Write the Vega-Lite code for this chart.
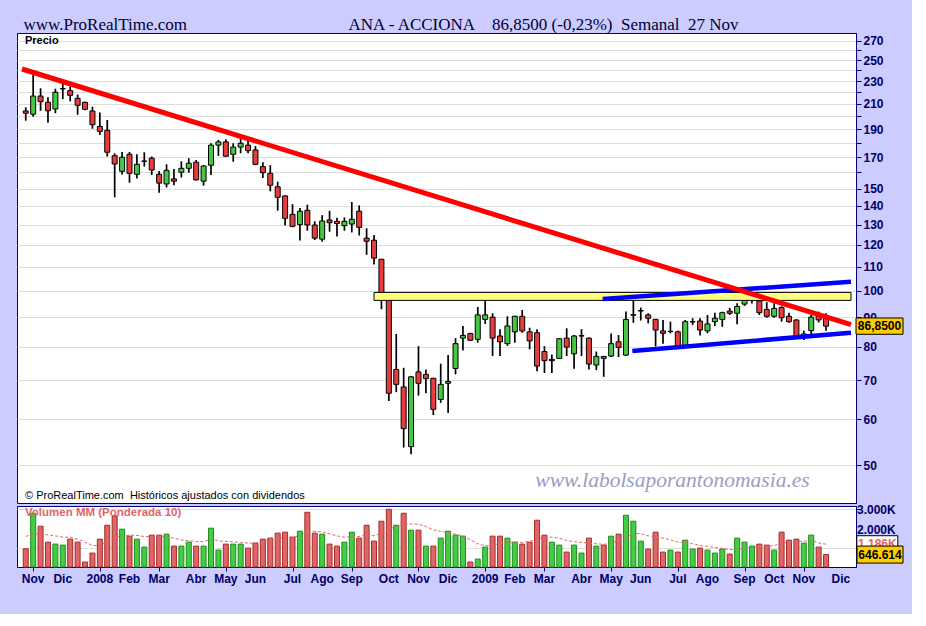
{
  "$schema": "https://vega.github.io/schema/vega-lite/v6.json",
  "background": "#CCCCFF",
  "padding": {"left": 16, "top": 15, "right": 6, "bottom": 28},
  "title": {
    "text": "www.ProRealTime.com\u00a0\u00a0\u00a0\u00a0\u00a0\u00a0\u00a0\u00a0\u00a0\u00a0\u00a0\u00a0\u00a0\u00a0\u00a0\u00a0\u00a0\u00a0\u00a0\u00a0\u00a0\u00a0\u00a0\u00a0\u00a0\u00a0\u00a0\u00a0\u00a0\u00a0\u00a0\u00a0\u00a0\u00a0\u00a0\u00a0\u00a0\u00a0ANA - ACCIONA\u00a0\u00a0\u00a0\u00a086,8500 (-0,23%)\u00a0\u00a0Semanal\u00a0\u00a027 Nov",
    "anchor": "start",
    "font": "Liberation Serif",
    "fontSize": 17,
    "fontWeight": "normal",
    "color": "#000033",
    "offset": -1,
    "dx": 7
  },
  "datasets": {
    "semanal": [
      {"d":"2007-10-29","o":204.2,"h":207.2,"l":196.5,"c":202.4,"v":950,"mm":1589,"sube":false},
      {"d":"2007-11-05","o":201.6,"h":236.5,"l":199.6,"c":216.7,"v":2798,"mm":1727,"sube":true},
      {"d":"2007-11-12","o":216.7,"h":223.5,"l":204.4,"c":211.9,"v":2124,"mm":1710,"sube":false},
      {"d":"2007-11-19","o":211.4,"h":215.6,"l":194.9,"c":204.4,"v":1295,"mm":1675,"sube":false},
      {"d":"2007-11-26","o":205.8,"h":223.1,"l":202.4,"c":220.0,"v":1192,"mm":1623,"sube":true},
      {"d":"2007-12-03","o":223.3,"h":228.0,"l":214.1,"c":222.9,"v":1140,"mm":1554,"sube":true},
      {"d":"2007-12-10","o":221.4,"h":225.0,"l":212.2,"c":217.3,"v":1451,"mm":1554,"sube":false},
      {"d":"2007-12-17","o":214.7,"h":218.0,"l":201.2,"c":208.9,"v":1295,"mm":1450,"sube":false},
      {"d":"2007-12-24","o":211.4,"h":211.9,"l":204.8,"c":205.6,"v":259,"mm":1295,"sube":false},
      {"d":"2007-12-31","o":204.2,"h":207.7,"l":190.3,"c":193.4,"v":725,"mm":1122,"sube":false},
      {"d":"2008-01-07","o":192.1,"h":203.0,"l":185.7,"c":188.3,"v":1451,"mm":1105,"sube":false},
      {"d":"2008-01-14","o":189.1,"h":197.0,"l":170.4,"c":173.3,"v":2176,"mm":1330,"sube":false},
      {"d":"2008-01-21","o":171.0,"h":172.6,"l":144.9,"c":165.4,"v":2660,"mm":1554,"sube":false},
      {"d":"2008-01-28","o":160.7,"h":173.5,"l":158.6,"c":169.9,"v":1969,"mm":1623,"sube":true},
      {"d":"2008-02-04","o":171.9,"h":173.5,"l":153.6,"c":159.4,"v":1606,"mm":1658,"sube":false},
      {"d":"2008-02-11","o":158.8,"h":171.9,"l":156.1,"c":165.2,"v":1451,"mm":1640,"sube":true},
      {"d":"2008-02-18","o":167.2,"h":173.3,"l":163.7,"c":167.4,"v":1036,"mm":1589,"sube":true},
      {"d":"2008-02-25","o":169.3,"h":170.4,"l":158.4,"c":161.5,"v":1658,"mm":1589,"sube":false},
      {"d":"2008-03-03","o":158.8,"h":160.9,"l":147.6,"c":153.3,"v":1658,"mm":1623,"sube":false},
      {"d":"2008-03-10","o":152.8,"h":165.2,"l":150.7,"c":161.3,"v":1710,"mm":1554,"sube":true},
      {"d":"2008-03-17","o":155.9,"h":162.2,"l":152.0,"c":154.5,"v":1088,"mm":1502,"sube":false},
      {"d":"2008-03-24","o":160.1,"h":167.2,"l":156.8,"c":162.6,"v":1088,"mm":1416,"sube":true},
      {"d":"2008-03-31","o":162.6,"h":169.3,"l":159.8,"c":165.9,"v":1295,"mm":1364,"sube":true},
      {"d":"2008-04-07","o":166.6,"h":168.1,"l":154.9,"c":155.3,"v":1088,"mm":1330,"sube":false},
      {"d":"2008-04-14","o":154.5,"h":164.6,"l":151.8,"c":164.1,"v":1088,"mm":1312,"sube":true},
      {"d":"2008-04-21","o":164.6,"h":179.6,"l":158.4,"c":178.3,"v":2021,"mm":1450,"sube":true},
      {"d":"2008-04-28","o":178.3,"h":182.0,"l":170.8,"c":180.6,"v":881,"mm":1364,"sube":true},
      {"d":"2008-05-05","o":180.6,"h":182.5,"l":170.4,"c":170.6,"v":1192,"mm":1330,"sube":false},
      {"d":"2008-05-12","o":171.9,"h":179.6,"l":166.9,"c":176.9,"v":1192,"mm":1312,"sube":true},
      {"d":"2008-05-19","o":176.9,"h":183.5,"l":172.6,"c":179.6,"v":1192,"mm":1278,"sube":true},
      {"d":"2008-05-26","o":178.3,"h":181.2,"l":172.6,"c":174.4,"v":984,"mm":1243,"sube":false},
      {"d":"2008-06-02","o":174.9,"h":177.6,"l":164.6,"c":165.2,"v":1243,"mm":1243,"sube":false},
      {"d":"2008-06-09","o":163.7,"h":166.6,"l":156.4,"c":159.8,"v":1451,"mm":1330,"sube":false},
      {"d":"2008-06-16","o":159.4,"h":164.6,"l":148.4,"c":152.0,"v":1502,"mm":1416,"sube":false},
      {"d":"2008-06-23","o":151.1,"h":154.2,"l":137.4,"c":144.9,"v":1762,"mm":1485,"sube":false},
      {"d":"2008-06-30","o":145.7,"h":146.1,"l":129.5,"c":133.3,"v":1813,"mm":1554,"sube":false},
      {"d":"2008-07-07","o":135.4,"h":141.0,"l":128.6,"c":129.1,"v":1554,"mm":1554,"sube":false},
      {"d":"2008-07-14","o":130.0,"h":138.9,"l":122.0,"c":137.1,"v":1865,"mm":1623,"sube":true},
      {"d":"2008-07-21","o":137.6,"h":140.7,"l":126.9,"c":129.8,"v":2850,"mm":1848,"sube":false},
      {"d":"2008-07-28","o":129.8,"h":131.7,"l":122.3,"c":123.2,"v":1762,"mm":1848,"sube":false},
      {"d":"2008-08-04","o":122.7,"h":135.0,"l":121.5,"c":131.9,"v":1710,"mm":1831,"sube":true},
      {"d":"2008-08-11","o":132.4,"h":137.3,"l":126.4,"c":131.0,"v":1192,"mm":1727,"sube":false},
      {"d":"2008-08-18","o":131.7,"h":133.6,"l":124.0,"c":130.6,"v":1088,"mm":1623,"sube":false},
      {"d":"2008-08-25","o":129.5,"h":133.8,"l":126.9,"c":131.7,"v":1295,"mm":1554,"sube":true},
      {"d":"2008-09-01","o":130.3,"h":142.2,"l":126.0,"c":132.8,"v":1813,"mm":1589,"sube":true},
      {"d":"2008-09-08","o":137.1,"h":140.3,"l":124.5,"c":128.6,"v":1502,"mm":1589,"sube":false},
      {"d":"2008-09-15","o":123.2,"h":128.1,"l":115.3,"c":121.7,"v":2176,"mm":1675,"sube":false},
      {"d":"2008-09-22","o":122.2,"h":124.8,"l":110.9,"c":113.8,"v":1347,"mm":1623,"sube":false},
      {"d":"2008-09-29","o":113.3,"h":113.3,"l":92.9,"c":99.0,"v":2383,"mm":1762,"sube":false},
      {"d":"2008-10-06","o":97.5,"h":98.5,"l":64.5,"c":66.5,"v":3005,"mm":1969,"sube":false},
      {"d":"2008-10-13","o":73.1,"h":84.2,"l":66.8,"c":68.9,"v":2176,"mm":2107,"sube":true},
      {"d":"2008-10-20","o":68.2,"h":73.6,"l":53.6,"c":57.8,"v":2798,"mm":2228,"sube":false},
      {"d":"2008-10-27","o":53.8,"h":71.2,"l":52.2,"c":71.0,"v":1917,"mm":2245,"sube":true},
      {"d":"2008-11-03","o":72.4,"h":80.2,"l":65.9,"c":69.2,"v":1917,"mm":2228,"sube":false},
      {"d":"2008-11-10","o":71.7,"h":73.1,"l":66.5,"c":70.5,"v":1088,"mm":2107,"sube":true},
      {"d":"2008-11-17","o":70.6,"h":70.7,"l":61.0,"c":62.4,"v":1088,"mm":1934,"sube":false},
      {"d":"2008-11-24","o":64.9,"h":74.8,"l":64.0,"c":68.9,"v":1502,"mm":1848,"sube":true},
      {"d":"2008-12-01","o":69.2,"h":77.4,"l":61.5,"c":69.7,"v":1865,"mm":1796,"sube":true},
      {"d":"2008-12-08","o":73.4,"h":82.8,"l":71.7,"c":81.0,"v":1658,"mm":1710,"sube":true},
      {"d":"2008-12-15","o":82.8,"h":86.9,"l":78.8,"c":83.7,"v":1606,"mm":1623,"sube":true},
      {"d":"2008-12-22","o":84.3,"h":84.6,"l":81.9,"c":82.1,"v":259,"mm":1416,"sube":false},
      {"d":"2008-12-29","o":82.4,"h":93.7,"l":81.3,"c":90.8,"v":414,"mm":1209,"sube":true},
      {"d":"2009-01-05","o":89.2,"h":97.8,"l":87.6,"c":90.8,"v":1036,"mm":1105,"sube":true},
      {"d":"2009-01-12","o":90.0,"h":91.4,"l":77.1,"c":82.8,"v":1606,"mm":1140,"sube":false},
      {"d":"2009-01-19","o":83.5,"h":85.8,"l":77.1,"c":81.6,"v":1606,"mm":1243,"sube":false},
      {"d":"2009-01-26","o":81.0,"h":90.3,"l":80.3,"c":86.9,"v":1502,"mm":1295,"sube":true},
      {"d":"2009-02-02","o":84.9,"h":90.5,"l":81.3,"c":90.3,"v":1295,"mm":1295,"sube":true},
      {"d":"2009-02-09","o":90.3,"h":92.6,"l":84.6,"c":85.2,"v":1192,"mm":1278,"sube":false},
      {"d":"2009-02-16","o":84.9,"h":86.3,"l":79.2,"c":81.9,"v":1295,"mm":1330,"sube":false},
      {"d":"2009-02-23","o":84.6,"h":85.8,"l":72.6,"c":74.1,"v":2435,"mm":1450,"sube":false},
      {"d":"2009-03-02","o":78.5,"h":80.2,"l":72.1,"c":75.7,"v":1658,"mm":1554,"sube":false},
      {"d":"2009-03-09","o":76.1,"h":77.6,"l":72.1,"c":75.7,"v":1295,"mm":1554,"sube":true},
      {"d":"2009-03-16","o":76.4,"h":82.8,"l":76.3,"c":82.6,"v":1140,"mm":1502,"sube":true},
      {"d":"2009-03-23","o":82.8,"h":86.1,"l":77.1,"c":79.9,"v":777,"mm":1382,"sube":false},
      {"d":"2009-03-30","o":77.8,"h":83.8,"l":73.3,"c":83.5,"v":1140,"mm":1312,"sube":true},
      {"d":"2009-04-06","o":83.6,"h":85.8,"l":77.1,"c":83.5,"v":725,"mm":1278,"sube":true},
      {"d":"2009-04-13","o":82.8,"h":83.0,"l":73.1,"c":74.7,"v":1502,"mm":1243,"sube":false},
      {"d":"2009-04-20","o":74.4,"h":78.5,"l":72.9,"c":77.0,"v":1088,"mm":1209,"sube":true},
      {"d":"2009-04-27","o":77.0,"h":77.1,"l":71.0,"c":76.4,"v":1140,"mm":1174,"sube":false},
      {"d":"2009-05-04","o":77.1,"h":84.3,"l":76.8,"c":81.0,"v":1606,"mm":1243,"sube":true},
      {"d":"2009-05-11","o":81.6,"h":83.8,"l":76.8,"c":79.8,"v":1710,"mm":1382,"sube":false},
      {"d":"2009-05-18","o":77.4,"h":92.0,"l":77.2,"c":89.2,"v":2694,"mm":1502,"sube":true},
      {"d":"2009-05-25","o":90.9,"h":96.3,"l":88.0,"c":90.7,"v":2383,"mm":1762,"sube":true},
      {"d":"2009-06-01","o":92.2,"h":93.5,"l":88.8,"c":92.4,"v":1347,"mm":1727,"sube":true},
      {"d":"2009-06-08","o":90.8,"h":91.4,"l":87.8,"c":89.6,"v":933,"mm":1623,"sube":false},
      {"d":"2009-06-15","o":89.2,"h":89.4,"l":80.1,"c":85.5,"v":1813,"mm":1589,"sube":false},
      {"d":"2009-06-22","o":85.2,"h":89.0,"l":81.0,"c":84.4,"v":777,"mm":1502,"sube":false},
      {"d":"2009-06-29","o":85.0,"h":88.4,"l":84.4,"c":85.1,"v":881,"mm":1416,"sube":true},
      {"d":"2009-07-06","o":84.9,"h":85.3,"l":80.2,"c":80.3,"v":777,"mm":1295,"sube":false},
      {"d":"2009-07-13","o":80.3,"h":89.0,"l":80.2,"c":88.4,"v":1399,"mm":1278,"sube":true},
      {"d":"2009-07-20","o":88.3,"h":89.6,"l":87.2,"c":88.4,"v":933,"mm":1209,"sube":true},
      {"d":"2009-07-27","o":88.6,"h":89.6,"l":83.7,"c":85.5,"v":984,"mm":1122,"sube":false},
      {"d":"2009-08-03","o":85.2,"h":90.8,"l":84.4,"c":87.6,"v":881,"mm":1071,"sube":true},
      {"d":"2009-08-10","o":88.4,"h":91.6,"l":86.9,"c":89.6,"v":725,"mm":1019,"sube":true},
      {"d":"2009-08-17","o":89.2,"h":92.0,"l":86.6,"c":91.6,"v":933,"mm":967,"sube":true},
      {"d":"2009-08-24","o":92.2,"h":93.4,"l":90.8,"c":91.4,"v":674,"mm":898,"sube":false},
      {"d":"2009-08-31","o":91.4,"h":95.1,"l":87.5,"c":93.9,"v":1502,"mm":933,"sube":true},
      {"d":"2009-09-07","o":94.8,"h":98.8,"l":94.1,"c":97.1,"v":1295,"mm":984,"sube":true},
      {"d":"2009-09-14","o":96.6,"h":99.3,"l":95.0,"c":98.3,"v":1088,"mm":1019,"sube":true},
      {"d":"2009-09-21","o":96.0,"h":97.1,"l":90.8,"c":91.6,"v":1192,"mm":1071,"sube":false},
      {"d":"2009-09-28","o":92.8,"h":95.5,"l":89.8,"c":90.3,"v":1140,"mm":1071,"sube":false},
      {"d":"2009-10-05","o":90.3,"h":95.1,"l":89.8,"c":93.2,"v":881,"mm":1105,"sube":true},
      {"d":"2009-10-12","o":93.5,"h":94.0,"l":88.4,"c":89.8,"v":1813,"mm":1243,"sube":false},
      {"d":"2009-10-19","o":90.3,"h":91.6,"l":88.0,"c":88.4,"v":1399,"mm":1312,"sube":false},
      {"d":"2009-10-26","o":89.0,"h":89.2,"l":83.2,"c":83.3,"v":1451,"mm":1330,"sube":false},
      {"d":"2009-11-02","o":83.5,"h":85.3,"l":82.2,"c":84.2,"v":1243,"mm":1330,"sube":true},
      {"d":"2009-11-09","o":85.3,"h":90.8,"l":83.8,"c":90.0,"v":1658,"mm":1416,"sube":true},
      {"d":"2009-11-16","o":90.3,"h":92.0,"l":88.1,"c":89.0,"v":1036,"mm":1250,"sube":false},
      {"d":"2009-11-23","o":89.6,"h":91.4,"l":85.3,"c":86.85,"v":647,"mm":1186,"sube":false}
    ],
    "lineas": [
      {"linea": "bajista", "d": "2007-10-25T11:00:00Z", "p": 241.3},
      {"linea": "bajista", "d": "2009-12-16T14:00:00Z", "p": 87.4},
      {"linea": "canal_sup", "d": "2009-04-26T00:00:00Z", "p": 96.7},
      {"linea": "canal_sup", "d": "2009-12-16T14:00:00Z", "p": 103.6},
      {"linea": "canal_inf", "d": "2009-05-24T00:00:00Z", "p": 78.7},
      {"linea": "canal_inf", "d": "2009-12-16T14:00:00Z", "p": 84.6}
    ],
    "meses": [
      {"d": "2007-11-05", "mes": "Nov"},
      {"d": "2007-12-03", "mes": "Dic"},
      {"d": "2008-01-07", "mes": "2008"},
      {"d": "2008-02-04", "mes": "Feb"},
      {"d": "2008-03-03", "mes": "Mar"},
      {"d": "2008-04-07", "mes": "Abr"},
      {"d": "2008-05-05", "mes": "May"},
      {"d": "2008-06-02", "mes": "Jun"},
      {"d": "2008-07-07", "mes": "Jul"},
      {"d": "2008-08-04", "mes": "Ago"},
      {"d": "2008-09-01", "mes": "Sep"},
      {"d": "2008-10-06", "mes": "Oct"},
      {"d": "2008-11-03", "mes": "Nov"},
      {"d": "2008-12-01", "mes": "Dic"},
      {"d": "2009-01-05", "mes": "2009"},
      {"d": "2009-02-02", "mes": "Feb"},
      {"d": "2009-03-02", "mes": "Mar"},
      {"d": "2009-04-06", "mes": "Abr"},
      {"d": "2009-05-04", "mes": "May"},
      {"d": "2009-06-01", "mes": "Jun"},
      {"d": "2009-07-06", "mes": "Jul"},
      {"d": "2009-08-03", "mes": "Ago"},
      {"d": "2009-09-07", "mes": "Sep"},
      {"d": "2009-10-05", "mes": "Oct"},
      {"d": "2009-11-02", "mes": "Nov"},
      {"d": "2009-12-07", "mes": "Dic"}
    ],
    "escala_volumen": [
      {"v": 2000, "etiqueta": "2.000K"},
      {"v": 3000, "etiqueta": "3.000K"}
    ]
  },
  "spacing": 3,
  "bounds": "flush",
  "vconcat": [
    {
      "width": 839,
      "height": 470,
      "data": {"name": "semanal"},
      "layer": [
        {
          "mark": {"type": "rule", "color": "black", "strokeWidth": 1.7},
          "encoding": {
            "x": {
              "field": "d",
              "type": "temporal",
              "scale": {
                "type": "utc",
                "domain": [
                  {"year": 2007, "month": 10, "date": 25, "hours": 11, "utc": true},
                  {"year": 2009, "month": 12, "date": 16, "hours": 14, "utc": true}
                ]
              },
              "axis": null
            },
            "y": {
              "field": "l",
              "type": "quantitative",
              "scale": {"type": "log", "domain": [43, 278.4], "nice": false},
              "axis": {
                "orient": "right",
                "values": [50, 60, 70, 80, 90, 100, 110, 120, 130, 140, 150, 160, 170, 180, 190, 200, 210, 220, 230, 240, 250, 260, 270],
                "labelExpr": "datum.value <= 150 || datum.value % 20 == 10 ? datum.label : ''",
                "labelOverlap": false,
                "grid": true,
                "tickSize": 5,
                "labelPadding": 2
              }
            },
            "y2": {"field": "h"}
          }
        },
        {
          "mark": {"type": "bar", "size": 5, "stroke": "black", "strokeWidth": 1},
          "encoding": {
            "x": {"field": "d", "type": "temporal"},
            "y": {"field": "o", "type": "quantitative"},
            "y2": {"field": "c"},
            "fill": {"condition": {"test": "datum.c >= datum.o", "value": "#44C844"}, "value": "#E83C3C"}
          }
        },
        {
          "data": {"values": [{"desde": "2008-09-22", "hasta": "2009-12-16T14:00:00Z", "inf": 96.2, "sup": 99.3}]},
          "mark": {"type": "rect", "fill": "#FFFF80", "stroke": "black", "strokeWidth": 1, "clip": true},
          "encoding": {
            "x": {"field": "desde", "type": "temporal"},
            "x2": {"field": "hasta"},
            "y": {"field": "inf", "type": "quantitative"},
            "y2": {"field": "sup"}
          }
        },
        {
          "data": {"name": "lineas"},
          "transform": [{"filter": "datum.linea != 'bajista'"}],
          "mark": {"type": "line", "color": "#0000FF", "strokeWidth": 4.5, "clip": true},
          "encoding": {
            "x": {"field": "d", "type": "temporal"},
            "y": {"field": "p", "type": "quantitative"},
            "detail": {"field": "linea"}
          }
        },
        {
          "data": {"name": "lineas"},
          "transform": [{"filter": "datum.linea == 'bajista'"}],
          "mark": {"type": "line", "color": "#FF0000", "strokeWidth": 5, "clip": true},
          "encoding": {
            "x": {"field": "d", "type": "temporal"},
            "y": {"field": "p", "type": "quantitative"}
          }
        },
        {
          "data": {"values": [{}]},
          "mark": {"type": "text", "text": "Precio", "align": "left", "baseline": "middle", "dx": 3, "dy": 8, "font": "Liberation Sans", "fontSize": 11, "fontWeight": "bold", "color": "black"},
          "encoding": {
            "x": {"datum": {"year": 2007, "month": 10, "date": 25, "hours": 11, "utc": true}, "type": "temporal"},
            "y": {"datum": 278.4, "type": "quantitative"}
          }
        },
        {
          "data": {"values": [{}]},
          "mark": {"type": "text", "text": "© ProRealTime.com\u00a0 Históricos ajustados con dividendos", "align": "left", "baseline": "middle", "dx": 3, "dy": -7, "font": "Liberation Sans", "fontSize": 11, "color": "black"},
          "encoding": {
            "x": {"datum": {"year": 2007, "month": 10, "date": 25, "hours": 11, "utc": true}, "type": "temporal"},
            "y": {"datum": 43, "type": "quantitative"}
          }
        },
        {
          "data": {"values": [{}]},
          "mark": {"type": "text", "text": "www.labolsaporantonomasia.es", "align": "center", "baseline": "middle", "font": "Liberation Serif", "fontSize": 21.5, "fontStyle": "italic", "color": "#9C9CC4"},
          "encoding": {
            "x": {"datum": {"year": 2009, "month": 7, "date": 1, "utc": true}, "type": "temporal"},
            "y": {"datum": 46.9, "type": "quantitative"}
          }
        },
        {
          "data": {"values": [{}]},
          "mark": {"type": "point", "shape": "M-1,-0.347H1V0.347H-1Z", "size": 2209, "filled": true, "fill": "#FFCC00", "stroke": "black", "strokeWidth": 1, "opacity": 1, "xOffset": 28.5},
          "encoding": {
            "x": {"datum": {"year": 2009, "month": 12, "date": 16, "hours": 14, "utc": true}, "type": "temporal"},
            "y": {"datum": 86.85, "type": "quantitative"}
          }
        },
        {
          "data": {"values": [{}]},
          "mark": {"type": "text", "text": "86,8500", "align": "center", "baseline": "middle", "xOffset": 28.5, "font": "Liberation Sans", "fontSize": 12, "fontWeight": "bold", "color": "black"},
          "encoding": {
            "x": {"datum": {"year": 2009, "month": 12, "date": 16, "hours": 14, "utc": true}, "type": "temporal"},
            "y": {"datum": 86.85, "type": "quantitative"}
          }
        }
      ]
    },
    {
      "width": 839,
      "height": 61,
      "data": {"name": "semanal"},
      "layer": [
        {
          "mark": {"type": "bar", "size": 5, "strokeWidth": 1},
          "encoding": {
            "x": {
              "field": "d",
              "type": "temporal",
              "scale": {
                "type": "utc",
                "domain": [
                  {"year": 2007, "month": 10, "date": 25, "hours": 11, "utc": true},
                  {"year": 2009, "month": 12, "date": 16, "hours": 14, "utc": true}
                ]
              },
              "axis": {
                "values": [1194220800000, 1196640000000, 1199664000000, 1202083200000, 1204502400000, 1207526400000, 1209945600000, 1212364800000, 1215388800000, 1217808000000, 1220227200000, 1223251200000, 1225670400000, 1228089600000, 1231113600000, 1233532800000, 1235952000000, 1238976000000, 1241395200000, 1243814400000, 1246838400000, 1249257600000, 1252281600000, 1254700800000, 1257120000000, 1260144000000],
                "labels": false,
                "grid": false,
                "tickSize": 4
              }
            },
            "y": {
              "field": "v",
              "type": "quantitative",
              "scale": {"domain": [0, 3176], "nice": false},
              "axis": {
                "orient": "right",
                "values": [1000, 2000, 3000],
                "labels": false,
                "grid": true,
                "tickSize": 5
              }
            },
            "fill": {"condition": {"test": "datum.sube", "value": "#44CC44"}, "value": "#E06666"},
            "stroke": {"condition": {"test": "datum.sube", "value": "#1E8C1E"}, "value": "#A52A2A"}
          }
        },
        {
          "mark": {"type": "line", "color": "#E06666", "strokeWidth": 1, "strokeDash": [3, 2]},
          "encoding": {
            "x": {"field": "d", "type": "temporal"},
            "y": {"field": "mm", "type": "quantitative"}
          }
        },
        {
          "data": {"name": "meses"},
          "mark": {"type": "text", "align": "center", "baseline": "middle", "dy": 12, "font": "Liberation Sans", "fontSize": 12, "fontWeight": "bold", "color": "#000066"},
          "encoding": {
            "x": {"field": "d", "type": "temporal"},
            "y": {"datum": 0, "type": "quantitative"},
            "text": {"field": "mes"}
          }
        },
        {
          "data": {"name": "escala_volumen"},
          "mark": {"type": "text", "align": "left", "baseline": "middle", "dx": 6, "dy": 1, "font": "Liberation Sans", "fontSize": 12, "fontWeight": "bold", "color": "#000066"},
          "encoding": {
            "x": {"datum": {"year": 2009, "month": 12, "date": 16, "hours": 14, "utc": true}, "type": "temporal"},
            "y": {"field": "v", "type": "quantitative"},
            "text": {"field": "etiqueta"}
          }
        },
        {
          "data": {"values": [{}]},
          "mark": {"type": "text", "text": "Volumen MM (Ponderada 10)", "align": "left", "baseline": "middle", "dx": 3, "dy": 7, "font": "Liberation Sans", "fontSize": 11.5, "fontWeight": "bold", "color": "#E06666"},
          "encoding": {
            "x": {"datum": {"year": 2007, "month": 10, "date": 25, "hours": 11, "utc": true}, "type": "temporal"},
            "y": {"datum": 3176, "type": "quantitative"}
          }
        },
        {
          "data": {"values": [{}]},
          "mark": {"type": "point", "shape": "M-1,-0.415H1V0.415H-1Z", "size": 1681, "filled": true, "fill": "white", "stroke": "black", "strokeWidth": 1, "opacity": 1, "xOffset": 26.3},
          "encoding": {
            "x": {"datum": {"year": 2009, "month": 12, "date": 16, "hours": 14, "utc": true}, "type": "temporal"},
            "y": {"datum": 1186, "type": "quantitative"}
          }
        },
        {
          "data": {"values": [{}]},
          "mark": {"type": "text", "text": "1.186K", "align": "center", "baseline": "middle", "xOffset": 26.3, "font": "Liberation Sans", "fontSize": 12, "fontWeight": "bold", "color": "#E06666"},
          "encoding": {
            "x": {"datum": {"year": 2009, "month": 12, "date": 16, "hours": 14, "utc": true}, "type": "temporal"},
            "y": {"datum": 1186, "type": "quantitative"}
          }
        },
        {
          "data": {"values": [{}]},
          "mark": {"type": "point", "shape": "M-1,-0.37H1V0.37H-1Z", "size": 2116, "filled": true, "fill": "#FFCC00", "stroke": "black", "strokeWidth": 1, "opacity": 1, "xOffset": 29},
          "encoding": {
            "x": {"datum": {"year": 2009, "month": 12, "date": 16, "hours": 14, "utc": true}, "type": "temporal"},
            "y": {"datum": 646.6, "type": "quantitative"}
          }
        },
        {
          "data": {"values": [{}]},
          "mark": {"type": "text", "text": "646.614", "align": "center", "baseline": "middle", "xOffset": 29, "font": "Liberation Sans", "fontSize": 12, "fontWeight": "bold", "color": "black"},
          "encoding": {
            "x": {"datum": {"year": 2009, "month": 12, "date": 16, "hours": 14, "utc": true}, "type": "temporal"},
            "y": {"datum": 646.6, "type": "quantitative"}
          }
        }
      ]
    }
  ],
  "config": {
    "view": {"stroke": "#000080", "fill": "white"},
    "axis": {
      "labelFont": "Liberation Sans",
      "labelFontSize": 12,
      "labelFontWeight": "bold",
      "labelColor": "#000066",
      "domainColor": "#000080",
      "tickColor": "#000080",
      "gridColor": "#DDDDDD",
      "labelOverlap": false,
      "title": null
    }
  }
}
